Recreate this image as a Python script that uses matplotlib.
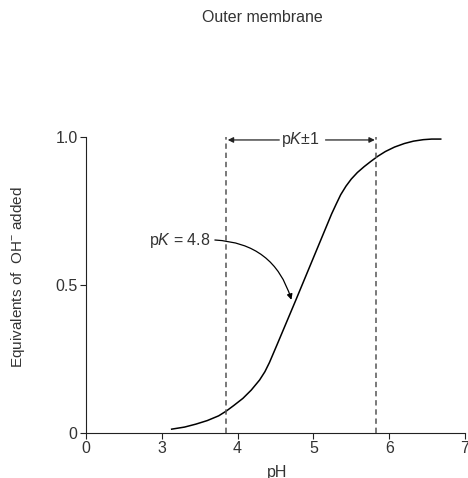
import matplotlib.pyplot as plt

plt.rcParams['font.family'] = ['Liberation Sans', 'DejaVu Sans']
plt.rcParams['mathtext.fontset'] = 'custom'
plt.rcParams['mathtext.rm'] = 'Liberation Sans'
plt.rcParams['mathtext.it'] = 'Liberation Sans:italic'

# titration curve (pH, equivalents of OH- added)
ph = [3.13, 3.30, 3.45, 3.60, 3.75, 3.85, 3.95, 4.07, 4.18, 4.29, 4.36, 4.42, 4.47,
      4.52, 4.76, 5.00, 5.24, 5.30, 5.36, 5.43, 5.50, 5.58, 5.67, 5.76, 5.85, 5.95,
      6.07, 6.20, 6.32, 6.45, 6.56, 6.68]
equiv = [0.013, 0.020, 0.030, 0.042, 0.058, 0.074, 0.093, 0.117, 0.145, 0.179, 0.207,
         0.238, 0.268, 0.298, 0.444, 0.592, 0.740, 0.773, 0.805, 0.834, 0.858, 0.880,
         0.900, 0.918, 0.935, 0.951, 0.966, 0.978, 0.986, 0.991, 0.993, 0.993]

pk = 4.8
pk_range = [3.85, 5.83]

# axis is broken: "0" sits one unit left of 3
x_ticks = [2, 3, 4, 5, 6, 7]
x_labels = ["0", "3", "4", "5", "6", "7"]
y_ticks = [0, 0.5, 1.0]
y_labels = ["0", "0.5", "1.0"]

text_color = "#333333"
fs = 11.5

fig = plt.figure(figsize=(4.68, 4.78), dpi=100)
ax = fig.add_axes([86 / 468, 45 / 478, 379 / 468, 296 / 478])

ax.plot(ph, equiv, color="black", lw=1.1, clip_on=False)

for xv in pk_range:
    ax.plot([xv, xv], [0, 1.0], color="#555555", lw=1.1, ls=(0, (3.5, 2.5)), clip_on=False)

# pK +/- 1 arrows
ax.text(4.83, 0.99, "p$K$±1", ha="center", va="center", fontsize=fs, color=text_color)
ax.annotate("", xy=(pk_range[0] + 0.02, 0.99), xytext=(4.55, 0.99),
            arrowprops=dict(arrowstyle="-|>", color="#222222", lw=0.9,
                            mutation_scale=8, shrinkA=0, shrinkB=0), annotation_clip=False)
ax.annotate("", xy=(pk_range[1] - 0.02, 0.99), xytext=(5.16, 0.99),
            arrowprops=dict(arrowstyle="-|>", color="#222222", lw=0.9,
                            mutation_scale=8, shrinkA=0, shrinkB=0), annotation_clip=False)

# pK label with curved arrow
ax.text(3.64, 0.652, "p$K$ = 4.8", ha="right", va="center", fontsize=fs, color=text_color)
ax.annotate("", xy=(4.71, 0.45), xytext=(3.70, 0.652),
            arrowprops=dict(arrowstyle="-|>", color="black", lw=0.9, mutation_scale=8,
                            shrinkA=0, shrinkB=0, connectionstyle="arc3,rad=-0.35"))

ax.set_xlim(2, 7)
ax.set_ylim(0, 1.0)
ax.set_xticks(x_ticks)
ax.set_xticklabels(x_labels)
ax.set_yticks(y_ticks)
ax.set_yticklabels(y_labels)
ax.tick_params(direction="out", length=4, width=0.8, labelsize=fs,
               labelcolor=text_color, color="#222222", pad=2)
for s in ["top", "right"]:
    ax.spines[s].set_visible(False)
for s in ["left", "bottom"]:
    ax.spines[s].set_linewidth(0.8)
    ax.spines[s].set_color("#222222")

fig.text(277 / 468, 1 - 472 / 478, "pH", ha="center", va="center", fontsize=fs, color=text_color)
fig.text(18 / 468, 1 - 277 / 478, "Equivalents of  OH$^{-}$ added", rotation=90,
         ha="center", va="center", fontsize=11, color=text_color)
fig.text(262 / 468, 1 - 17 / 478, "Outer membrane", ha="center", va="center",
         fontsize=fs, color=text_color)

fig.savefig("out.png", dpi=100)
